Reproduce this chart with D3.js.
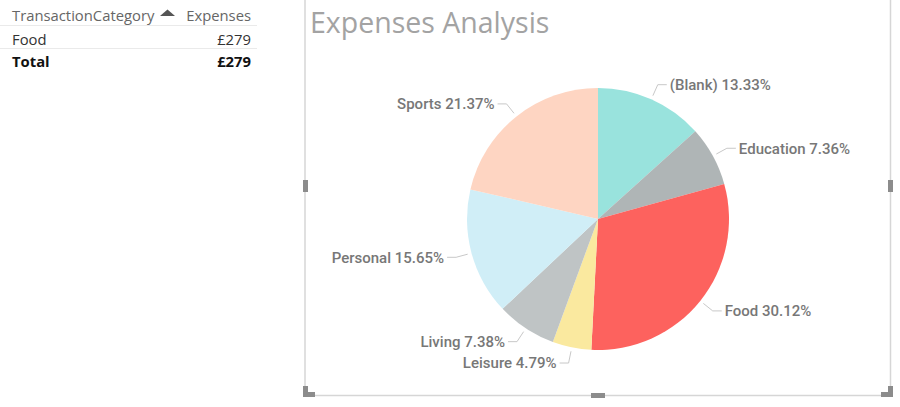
<!DOCTYPE html>
<html>
<head>
<meta charset="utf-8">
<script src="https://cdn.jsdelivr.net/npm/d3@7"></script>
<style>
  body { margin: 0; background: #fff; }
  svg { display: block; }
</style>
</head>
<body>
<div class="container"></div>
<script>
// data
var categories = ["(Blank)", "Education", "Food", "Leisure", "Living", "Personal", "Sports"];
var shares = [13.33, 7.36, 30.12, 4.79, 7.38, 15.65, 21.37];
var sliceColors = ["#99E3DD", "#AFB5B6", "#FD625E", "#FAE99F", "#BFC4C5", "#D0EEF7", "#FED5C2"];
var tableHeaders = ["TransactionCategory", "Expenses"];
var tableRows = [["Food", "£279"]];
var tableTotal = ["Total", "£279"];
var chartTitle = "Expenses Analysis";

var W = 900, H = 407;
var svg = d3.select(".container").append("svg")
	.attr("width", W)
	.attr("height", H);

// ---- table visual (top left)
var tbl = svg.append("g").attr("font-family", "'Open Sans', 'Noto Sans', sans-serif").attr("font-size", 14.8);
var colX = d3.scalePoint().domain([0, 1]).range([12, 251]);
var rowY = d3.scaleLinear().domain([0, 1, 2]).range([20.5, 44.5, 66.5]);

tbl.append("text").attr("x", colX(0)).attr("y", rowY(0)).attr("fill", "#666").text(tableHeaders[0]);
tbl.append("path").attr("d", "M160,16 L167.5,9.5 L175,16 Z").attr("fill", "#555");
tbl.append("text").attr("x", colX(1)).attr("y", rowY(0)).attr("text-anchor", "end").attr("fill", "#666").text(tableHeaders[1]);

tableRows.forEach(function(r, i) {
	tbl.append("text").attr("x", colX(0)).attr("y", rowY(i + 1)).attr("fill", "#333").text(r[0]);
	tbl.append("text").attr("x", colX(1)).attr("y", rowY(i + 1)).attr("text-anchor", "end").attr("fill", "#333").text(r[1]);
});
tbl.append("text").attr("x", colX(0)).attr("y", rowY(2)).attr("font-weight", "bold").attr("fill", "#111").text(tableTotal[0]);
tbl.append("text").attr("x", colX(1)).attr("y", rowY(2)).attr("text-anchor", "end").attr("font-weight", "bold").attr("fill", "#111").text(tableTotal[1]);

[25.5, 48.5].forEach(function(y) {
	tbl.append("line").attr("x1", 0).attr("x2", 257).attr("y1", y).attr("y2", y)
		.attr("stroke", "#eaeaea").attr("stroke-width", 1);
});

// ---- pie visual frame
var frame = svg.append("g");
var fx0 = 305, fx1 = 890.5, fy1 = 395.5;
frame.append("path")
	.attr("d", "M" + fx0 + ",-2 L" + fx0 + "," + fy1 + " L" + fx1 + "," + fy1 + " L" + fx1 + ",-2")
	.attr("fill", "none").attr("stroke", "#d6d6d6").attr("stroke-width", 1.5);

var hcol = "#8c8c8c";
// corner handles
frame.append("path").attr("d", "M303,386 h5 v6 h7 v5 h-12 Z").attr("fill", hcol);
frame.append("path").attr("d", "M893,386 h-5 v6 h-7 v5 h12 Z").attr("fill", hcol);
// side handles
frame.append("rect").attr("x", 303).attr("y", 180).attr("width", 5).attr("height", 12).attr("fill", hcol);
frame.append("rect").attr("x", 888).attr("y", 180).attr("width", 5).attr("height", 12).attr("fill", hcol);
frame.append("rect").attr("x", 591).attr("y", 393).attr("width", 14).attr("height", 5).attr("fill", hcol);

// title
svg.append("text")
	.attr("x", 310).attr("y", 33)
	.attr("font-family", "'Open Sans', 'Noto Sans', sans-serif")
	.attr("font-size", 28.5)
	.attr("fill", "#a3a3a3")
	.text(chartTitle);

// ---- pie
var cx = 598, cy = 219, R = 131;
var data = categories.map(function(c, i) { return {name: c, value: shares[i], color: sliceColors[i]}; });

var pie = d3.pie().sort(null).value(function(d) { return d.value; });
var arc = d3.arc().innerRadius(0).outerRadius(R);
var arcs = pie(data);

var g = svg.append("g").attr("transform", "translate(" + cx + "," + cy + ")");
g.selectAll("path.slice")
	.data(arcs)
	.enter().append("path")
	.attr("class", "slice")
	.attr("d", arc)
	.attr("fill", function(d) { return d.data.color; });

// leader lines and labels
var startArc = d3.arc().innerRadius(R + 4).outerRadius(R + 4);
var elbowArc = d3.arc().innerRadius(R + 16).outerRadius(R + 16);

arcs.forEach(function(d) {
	var p0 = startArc.centroid(d);
	var p1 = elbowArc.centroid(d);
	var mid = (d.startAngle + d.endAngle) / 2;
	var side = mid < Math.PI ? 1 : -1;
	var p2 = [p1[0] + side * 9, p1[1]];
	g.append("polyline")
		.attr("points", [p0, p1, p2].map(function(p) { return p.join(","); }).join(" "))
		.attr("fill", "none").attr("stroke", "#c8c8c8").attr("stroke-width", 1);
	g.append("text")
		.attr("x", p2[0] + side * 3)
		.attr("y", p2[1])
		.attr("dy", "0.36em")
		.attr("text-anchor", side > 0 ? "start" : "end")
		.attr("font-family", "Roboto, sans-serif")
		.attr("font-weight", 500)
		.attr("font-size", 15)
		.attr("fill", "#777")
		.text(d.data.name + " " + d3.format(".2f")(d.data.value) + "%");
});
</script>
</body>
</html>
